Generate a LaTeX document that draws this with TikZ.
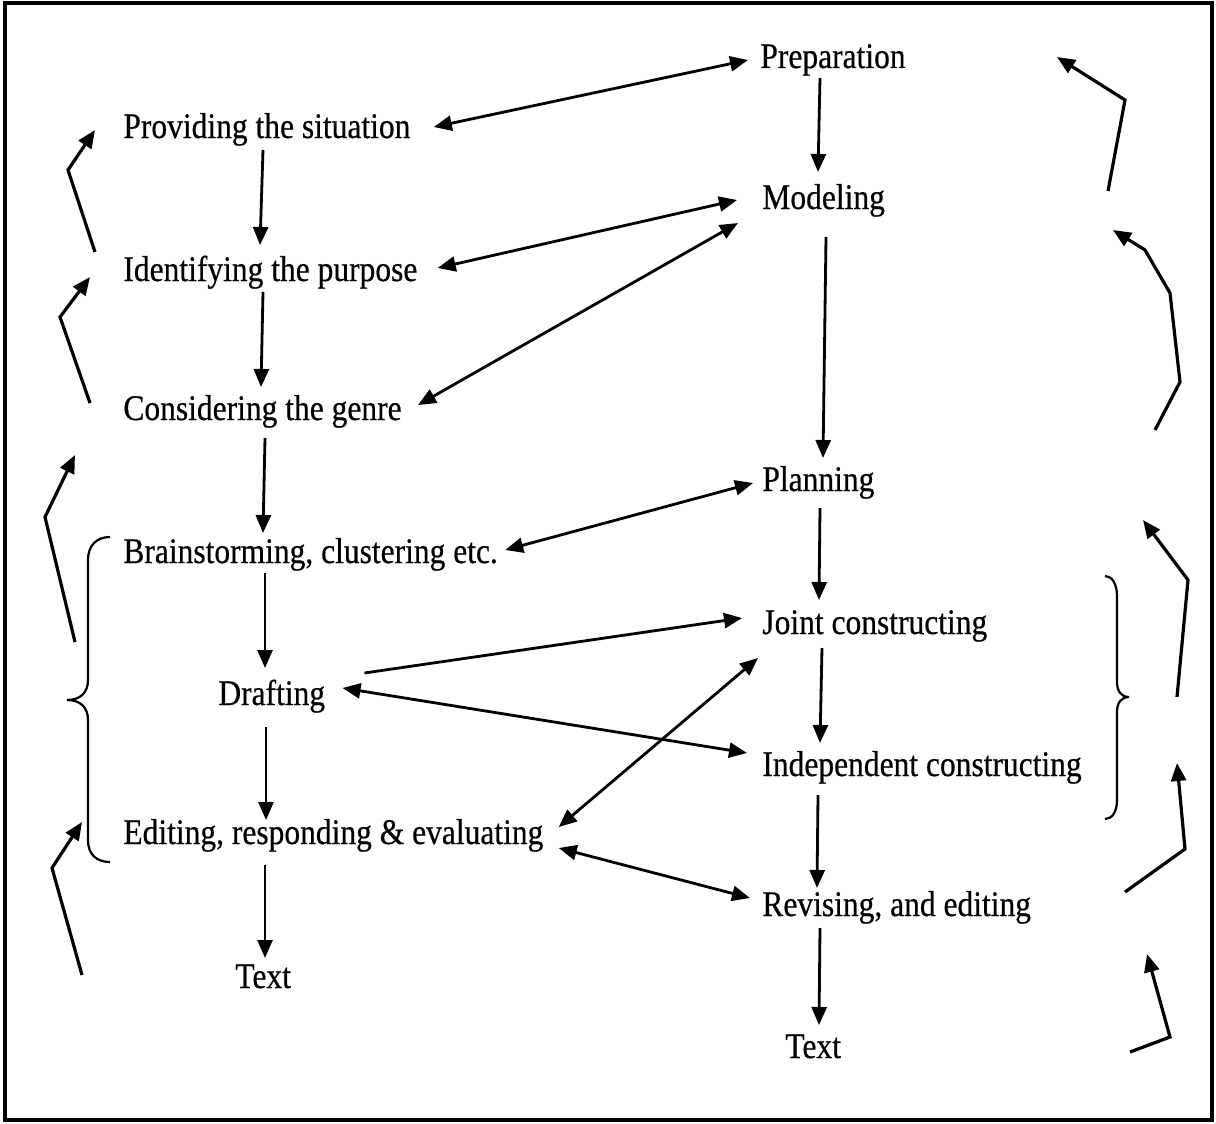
\documentclass[tikz,border=0pt]{standalone}
\usepackage{fontspec}
\setmainfont{Liberation Serif}[FakeStretch=0.875,FakeBold=0.5]
\usetikzlibrary{arrows.meta}
\begin{document}
\begin{tikzpicture}[x=0.5pt,y=-0.5pt,
  stage/.style={anchor=base west, inner sep=0pt, font=\fontsize{18pt}{20pt}\selectfont},
  tipshape/.tip={Triangle[length=9pt,width=7.5pt]},
  flow/.style={line width=1.4pt, -tipshape},
  twoway/.style={line width=1.4pt, tipshape-tipshape},
  sidearrow/.style={line width=1.6pt, -tipshape, line join=miter},
  curlybrace/.style={line width=1.1pt}]

\useasboundingbox (0,0) rectangle (1216,1124);
\draw[line width=2.2pt] (5,3) rectangle (1212,1120);

% left column: genre-based writing stages
\node[stage] (prov)   at (123,138) {Providing the situation};
\node[stage] (ident)  at (123,281) {Identifying the purpose};
\node[stage] (consid) at (123,420) {Considering the genre};
\node[stage] (brain)  at (123,563) {Brainstorming, clustering etc.};
\node[stage] (draft)  at (218,705) {Drafting};
\node[stage] (edit)   at (123,844) {Editing, responding \& evaluating};
\node[stage] (textl)  at (235,988) {Text};

% right column: teaching cycle
\node[stage] (prep)  at (760,68)   {Preparation};
\node[stage] (model) at (762,209)  {Modeling};
\node[stage] (plan)  at (762,491)  {Planning};
\node[stage] (joint) at (762,634)  {Joint constructing};
\node[stage] (indep) at (762,776)  {Independent constructing};
\node[stage] (revis) at (762,916)  {Revising, and editing};
\node[stage] (textr) at (785,1058) {Text};

% downward sequence, left column
\draw[flow] ([shift={(140,12)}]prov.base west)   -- ([shift={(137,-36)}]ident.base west);
\draw[flow] ([shift={(140,11)}]ident.base west)  -- ([shift={(138,-33)}]consid.base west);
\draw[flow] ([shift={(142,18)}]consid.base west) -- ([shift={(140,-30)}]brain.base west);
\draw[flow] ([shift={(142,10)}]brain.base west)  -- ([shift={(47,-37)}]draft.base west);
\draw[flow] ([shift={(48,22)}]draft.base west)   -- ([shift={(143,-24)}]edit.base west);
\draw[flow] ([shift={(142,21)}]edit.base west)   -- ([shift={(30,-30)}]textl.base west);

% downward sequence, right column
\draw[flow] ([shift={(60,10)}]prep.base west)  -- ([shift={(56,-37)}]model.base west);
\draw[flow] ([shift={(64,28)}]model.base west) -- ([shift={(61,-33)}]plan.base west);
\draw[flow] ([shift={(58,17)}]plan.base west)  -- ([shift={(57,-34)}]joint.base west);
\draw[flow] ([shift={(60,14)}]joint.base west) -- ([shift={(58,-33)}]indep.base west);
\draw[flow] ([shift={(56,19)}]indep.base west) -- ([shift={(55,-28)}]revis.base west);
\draw[flow] ([shift={(58,12)}]revis.base west) -- ([shift={(34,-33)}]textr.base west);

% links between the two columns
\draw[twoway] ([shift={(23,-11)}]prov.base east)   -- ([shift={(-12,-8)}]prep.base west);
\draw[twoway] ([shift={(20,-13)}]ident.base east)  -- ([shift={(-25,-9)}]model.base west);
\draw[twoway] ([shift={(16,-15)}]consid.base east) -- ([shift={(-24,14)}]model.base west);
\draw[twoway] ([shift={(7,-13)}]brain.base east)   -- ([shift={(-9,-8)}]plan.base west);
\draw[flow]   ([shift={(39,-32)}]draft.base east)  -- ([shift={(-20,-16)}]joint.base west);
\draw[twoway] ([shift={(17,-17)}]draft.base east)  -- ([shift={(-15,-23)}]indep.base west);
\draw[twoway] ([shift={(15,-17)}]edit.base east)   -- ([shift={(-4,24)}]joint.base west);
\draw[twoway] ([shift={(15,4)}]edit.base east)     -- ([shift={(-12,-18)}]revis.base west);

% recursive arrows, left margin
\draw[sidearrow] (95,252) -- (68,170) -- (95,130);
\draw[sidearrow] (90,403) -- (60,317) -- (90,277);
\draw[sidearrow] (75,642) -- (45,517) -- (75,455);
\draw[sidearrow] (82,975) -- (52,868) -- (82,822);

% recursive arrows, right margin
\draw[sidearrow] (1108,191) -- (1125,100) -- (1057,57);
\draw[sidearrow] (1155,430) -- (1180,382) -- (1170,293) -- (1145,250) -- (1113,230);
\draw[sidearrow] (1177,697) -- (1188,580) -- (1143,520);
\draw[sidearrow] (1125,892) -- (1185,849) -- (1177,763);
\draw[sidearrow] (1130,1052) -- (1170,1037) -- (1147,954);

% braces grouping stages
\draw[curlybrace] (110,537) .. controls (96,537) and (88,546) .. (88,560)
  -- (88,680) .. controls (88,693) and (80,700) .. (67,700)
  .. controls (80,700) and (88,707) .. (88,720)
  -- (88,840) .. controls (88,854) and (96,862) .. (110,862);
\draw[curlybrace] (1105,576) .. controls (1112,576) and (1117,584) .. (1117,596)
  -- (1117,682) .. controls (1117,691) and (1121,697) .. (1129,697)
  .. controls (1121,697) and (1117,703) .. (1117,712)
  -- (1117,800) .. controls (1117,812) and (1112,819) .. (1105,819);
\end{tikzpicture}
\end{document}
